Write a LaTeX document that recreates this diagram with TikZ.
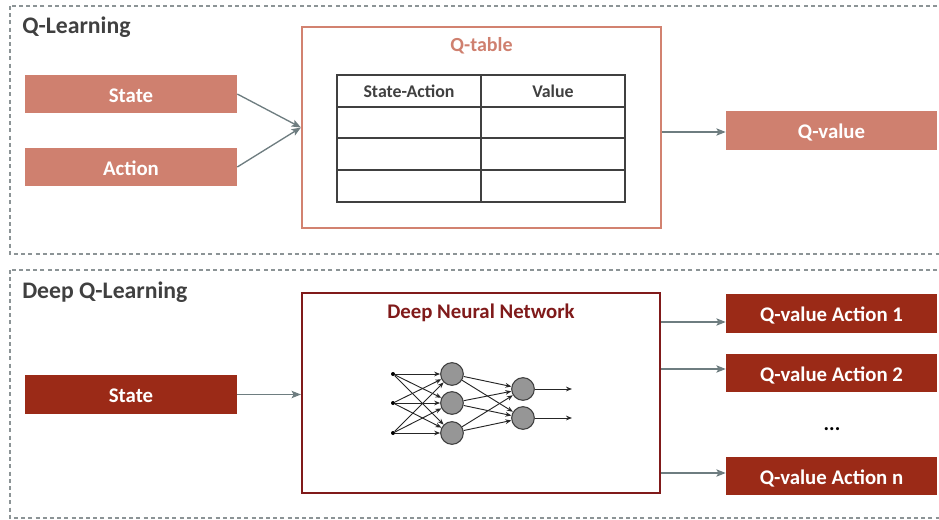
\documentclass[tikz,border=0pt]{standalone}
\usepackage{fontspec}
\setmainfont{Carlito}
\usetikzlibrary{arrows.meta,calc}
\definecolor{qlight}{RGB}{207,128,111}
\definecolor{qlborder}{RGB}{210,130,112}
\definecolor{qdark}{RGB}{155,42,23}
\definecolor{dnnborder}{RGB}{128,26,26}
\definecolor{arrowgray}{RGB}{110,125,128}
\definecolor{dashgray}{RGB}{140,148,150}
\definecolor{titlegray}{RGB}{64,64,64}
\definecolor{nodegray}{RGB}{150,150,150}
\tikzset{
  dashbox/.style={draw=dashgray, line width=0.9pt, dash pattern=on 3pt off 2.4pt},
  boxtext/.style={font=\fontsize{15.6}{18}\selectfont\bfseries, text=white, inner sep=0pt, text height=12.4pt, text depth=0pt},
  qlbox/.style={boxtext, fill=qlight, minimum width=159pt, minimum height=28.5pt},
  dqbox/.style={boxtext, fill=qdark, minimum width=158.25pt, minimum height=29pt},
  sectitle/.style={font=\fontsize{17.8}{21}\selectfont\bfseries, text=titlegray, anchor=base west, inner sep=0pt},
  conn/.style={draw=arrowgray, line width=1pt, -{Stealth[length=7pt,width=5.5pt,inset=1.5pt]}},
  tabtext/.style={font=\fontsize{13.4}{16}\selectfont\bfseries, text=titlegray, inner sep=0pt},
  tabline/.style={draw=black!75, line width=0.8pt},
  hid/.style={circle, draw=black!75, fill=nodegray, line width=0.8pt, minimum size=17pt, inner sep=0pt},
  inp/.style={circle, fill=black, minimum size=3pt, inner sep=0pt},
  nnedge/.style={draw=black!85, line width=0.7pt, -{Stealth[length=4.5pt,width=3.5pt]}}
}
\begin{document}
\begin{tikzpicture}[x=0.75pt,y=-0.75pt]
\useasboundingbox (0,0) rectangle (939,519);
\clip (0,0) rectangle (939,519);
% section frames
\draw[dashbox] (10,6) rectangle (960,254);
\draw[dashbox] (10,270) rectangle (960,518);
\node[sectitle] (t1) at (22,33) {Q-Learning};
\node[sectitle] (t2) at (22,298) {Deep Q-Learning};

% Q-learning
\node[qlbox] (s1) at (131,94) {State};
\node[qlbox] (a1) at (131,167) {Action};
\node[draw=qlborder, line width=1.6pt, minimum width=269.25pt, minimum height=150.75pt, inner sep=0pt] (qt) at (481.5,127.5) {};
\node[font=\fontsize{15}{18}\selectfont\bfseries, text=qlight, inner sep=0pt] (qtt) at (481.5,46) {Q-table};
\draw[tabline] (337,75) rectangle (625,202);
\draw[tabline] (481,75) -- (481,202);
\foreach \y in {107,138,170} \draw[tabline] (337,\y) -- (625,\y);
\node[tabtext] (h1) at (409,91) {State-Action};
\node[tabtext] (h2) at (553,91) {Value};
\node[qlbox, minimum width=158.25pt, minimum height=29.25pt] (qv) at (831.5,130.5) {Q-value};
\draw[conn] (s1.east) -- (qt.west);
\draw[conn] (a1.east) -- (qt.west);
\coordinate (qy) at (0,132);
\draw[conn] (qt.east |- qy) -- (qv.west |- qy);

% Deep Q-learning
\node[dqbox, minimum width=159pt] (s2) at (131,394.5) {State};
\node[draw=dnnborder, line width=1.6pt, minimum width=268.5pt, minimum height=150pt, inner sep=0pt] (dnn) at (481,393) {};
\node[font=\fontsize{15.6}{18}\selectfont\bfseries, text=dnnborder, inner sep=0pt] (dnnt) at (481,313) {Deep Neural Network};
\node[dqbox] (qa1) at (831.5,313.5) {Q-value Action 1};
\node[dqbox] (qa2) at (831.5,373) {Q-value Action 2};
\node[dqbox] (qan) at (831.5,476) {Q-value Action n};
\node[font=\fontsize{15.6}{18}\selectfont\bfseries, text=black, inner sep=0pt] (dots) at (832,429) {...};
\draw[conn] (s2.east) -- (dnn.west |- s2.east);
\coordinate (y1) at (0,322);
\coordinate (y2) at (0,369);
\coordinate (y3) at (0,473);
\draw[conn] (dnn.east |- y1) -- (qa1.west |- y1);
\draw[conn] (dnn.east |- y2) -- (qa2.west |- y2);
\draw[conn] (dnn.east |- y3) -- (qan.west |- y3);

% neural network
\foreach \i/\y in {1/374,2/403,3/433} {
  \node[inp] (i\i) at (393,\y) {};
  \node[hid] (h\i) at (452,\y) {};
}
\node[hid] (o1) at (523,389) {};
\node[hid] (o2) at (523,418) {};
\coordinate (e1) at (572,389);
\coordinate (e2) at (572,418);
\foreach \a in {1,2,3} \foreach \b in {1,2,3} \draw[nnedge] (i\a) -- (h\b);
\foreach \a in {1,2,3} \foreach \b in {1,2} \draw[nnedge] (h\a) -- (o\b);
\draw[nnedge] (o1) -- (e1);
\draw[nnedge] (o2) -- (e2);
\end{tikzpicture}
\end{document}
